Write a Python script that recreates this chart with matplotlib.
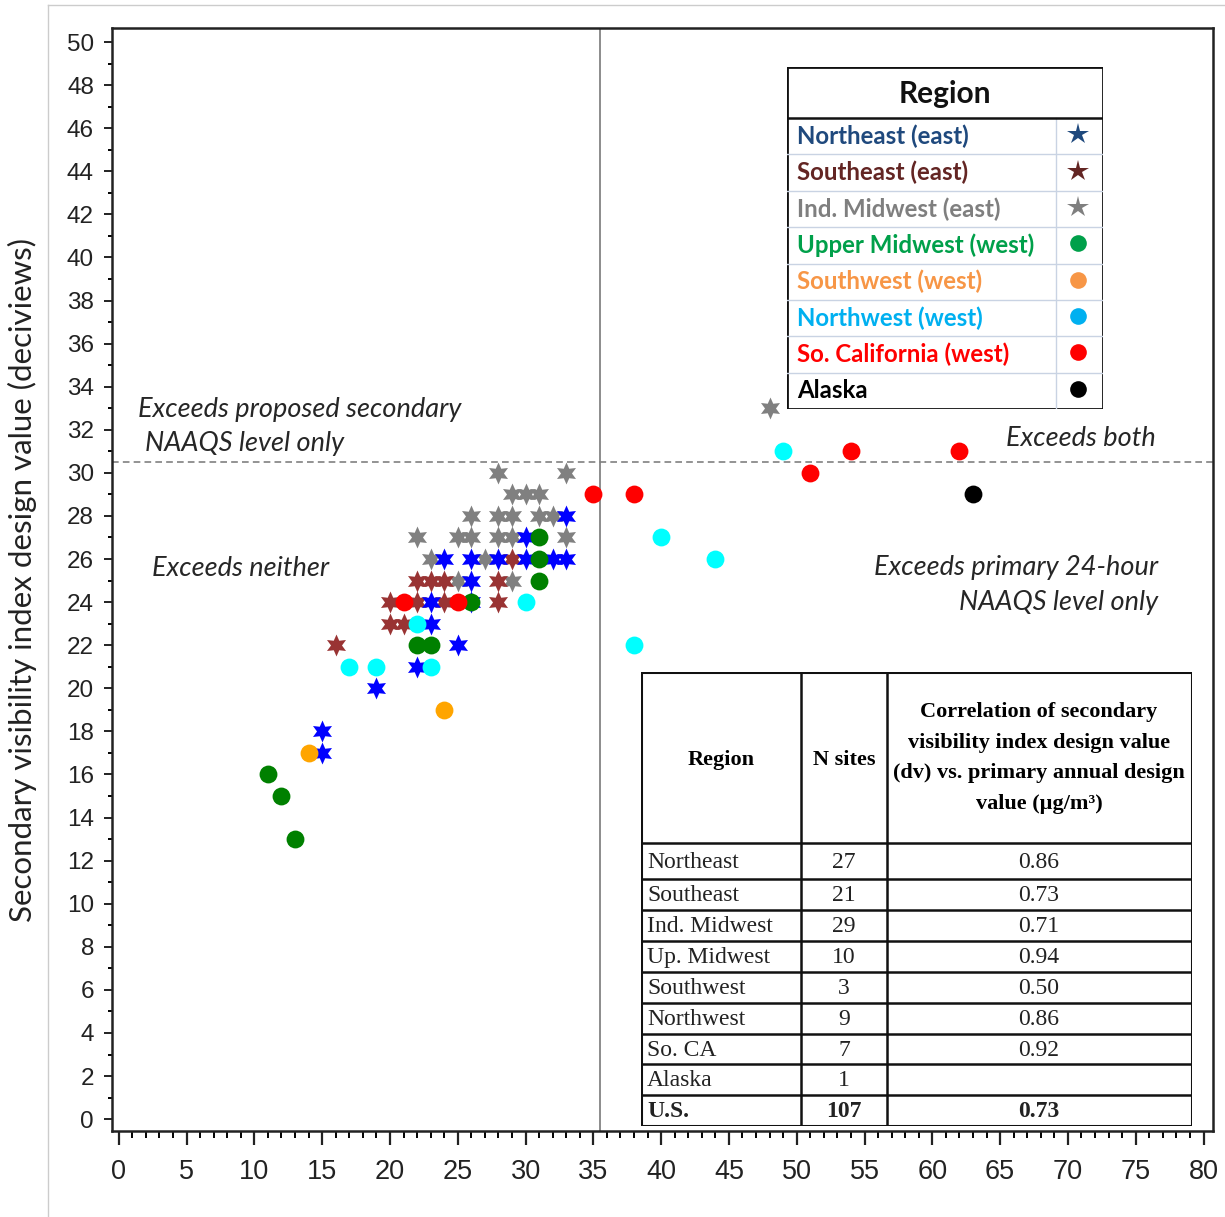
import matplotlib
matplotlib.use("Agg")
import matplotlib.pyplot as plt
from matplotlib import font_manager
from matplotlib.patches import Rectangle
from matplotlib.lines import Line2D
from matplotlib.ticker import MultipleLocator

# scatter data: x = primary annual design value, y = visibility index (dv)
ne_x = [15, 15, 19, 22, 25, 23, 23, 26, 26, 24, 26, 28, 30, 32, 33, 30, 33]
ne_y = [18, 17, 20, 21, 22, 23, 24, 24, 25, 26, 26, 26, 26, 26, 26, 27, 28]
se_x = [16, 20, 20, 21, 22, 22, 23, 24, 24, 28, 28, 29]
se_y = [22, 24, 23, 23, 25, 24, 25, 25, 24, 25, 24, 26]
im_x = [48, 28, 33, 29, 30, 31, 26, 28, 29, 31, 32, 22, 25, 26, 28, 29, 33, 23, 27, 25, 29]
im_y = [33, 30, 30, 29, 29, 29, 28, 28, 28, 28, 28, 27, 27, 27, 27, 27, 27, 26, 26, 25, 25]
um_x = [11, 12, 13, 22, 23, 26, 31, 31, 31]
um_y = [16, 15, 13, 22, 22, 24, 27, 26, 25]
sw_x = [14, 24]
sw_y = [17, 19]
nw_x = [49, 40, 44, 38, 30, 22, 17, 19, 23]
nw_y = [31, 27, 26, 22, 24, 23, 21, 21, 21]
sc_x = [35, 38, 51, 54, 62, 21, 25]
sc_y = [29, 29, 30, 31, 31, 24, 24]
ak_x = [63]
ak_y = [29]

primary_24h = 35.5
secondary_level = 30.5

legend_labels = ['Northeast (east)', 'Southeast (east)', 'Ind. Midwest (east)',
                 'Upper Midwest (west)', 'Southwest (west)', 'Northwest (west)',
                 'So. California (west)', 'Alaska']
legend_colors = ['#1F497D', '#632523', '#7F7F7F', '#00A04A', '#F79646',
                 '#00B0F0', '#FF0000', '#000000']
legend_markers = ['*', '*', '*', 'o', 'o', 'o', 'o', 'o']

tbl_regions = ['Northeast', 'Southeast', 'Ind. Midwest', 'Up. Midwest', 'Southwest',
               'Northwest', 'So. CA', 'Alaska', 'U.S.']
tbl_n = ['27', '21', '29', '10', '3', '9', '7', '1', '107']
tbl_r = ['0.86', '0.73', '0.71', '0.94', '0.50', '0.86', '0.92', '', '0.73']

names = {f.name for f in font_manager.fontManager.ttflist}
xfont = 'Liberation Sans Narrow' if 'Liberation Sans Narrow' in names else 'Liberation Sans'
cal = 'Lato'

W, H = 1225, 1217
fig = plt.figure(figsize=(W / 100, H / 100), dpi=100)


def box(l, t, r, b):
    return [l / W, 1 - b / H, (r - l) / W, (b - t) / H]


ax = fig.add_axes(box(112, 28, 1213, 1131))
ax.set_xlim(-0.5, 80.7)
ax.set_ylim(-0.55, 50.65)

star6 = (6, 1, 0)
ax.scatter(im_x, im_y, marker=star6, s=250, color='#808080', lw=0, zorder=3)
ax.scatter(se_x, se_y, marker=star6, s=250, color='#993333', lw=0, zorder=4)
ax.scatter(ne_x, ne_y, marker=star6, s=250, color='#0000FF', lw=0, zorder=5)
ax.scatter(um_x, um_y, marker='o', s=165, color='#008000', lw=0, zorder=6)
ax.scatter(sw_x, sw_y, marker='o', s=165, color='#FFA500', lw=0, zorder=6)
ax.scatter(nw_x, nw_y, marker='o', s=165, color='#00FFFF', lw=0, zorder=6)
ax.scatter(sc_x, sc_y, marker='o', s=165, color='#FF0000', lw=0, zorder=7)
ax.scatter(ak_x, ak_y, marker='o', s=165, color='#000000', lw=0, zorder=7)

ax.axvline(primary_24h, color='#8C8C8C', lw=1.4, zorder=1)
ax.axhline(secondary_level, color='#808080', lw=1.2, ls=(0, (4, 2.5)), zorder=1)

for sp in ax.spines.values():
    sp.set_linewidth(1.8)
    sp.set_color('#222222')

ax.xaxis.set_major_locator(MultipleLocator(5))
ax.xaxis.set_minor_locator(MultipleLocator(1))
ax.yaxis.set_major_locator(MultipleLocator(2))
ax.yaxis.set_minor_locator(MultipleLocator(1))
ax.tick_params(axis='x', which='major', direction='out', length=10, width=1.6, pad=10,
               labelsize=19.5, colors='#222222')
ax.tick_params(axis='x', which='minor', direction='out', length=5, width=1.4)
ax.tick_params(axis='y', which='major', direction='out', length=6, width=1.4, pad=7,
               labelsize=17.5, colors='#222222')
ax.tick_params(axis='y', which='minor', direction='out', length=3, width=1.4)
for lab in ax.get_xticklabels():
    lab.set_fontfamily(xfont)
for lab in ax.get_yticklabels():
    lab.set_fontfamily('Liberation Sans')

fig.text(22 / W, 1 - 580 / H, 'Secondary visibility index design value (deciviews)',
         rotation=90, ha='center', va='center', fontsize=22.5, family=cal, color='#222222')

# region annotations
note = dict(fontsize=19.5, family=cal, style='italic', color='#262626', va='center')
ax.text(0.024, 1 - (409 - 28) / 1103, 'Exceeds proposed secondary', transform=ax.transAxes, ha='left', **note)
ax.text(0.030, 1 - (444 - 28) / 1103, 'NAAQS level only', transform=ax.transAxes, ha='left', **note)
ax.text(0.036, 1 - (568 - 28) / 1103, 'Exceeds neither', transform=ax.transAxes, ha='left', **note)
ax.text((1156 - 112) / 1101, 1 - (438 - 28) / 1103, 'Exceeds both', transform=ax.transAxes, ha='right', **note)
ax.text((1158 - 112) / 1101, 1 - (568 - 28) / 1103, 'Exceeds primary 24-hour', transform=ax.transAxes, ha='right', **note)
ax.text((1158 - 112) / 1101, 1 - (603 - 28) / 1103, 'NAAQS level only', transform=ax.transAxes, ha='right', **note)

# legend table (pixel coordinates inside its own axes)
lg = fig.add_axes(box(787, 67, 1103, 409), zorder=10)
lg.set_xlim(0, 316)
lg.set_ylim(342, 0)
lg.axis('off')
lg.add_patch(Rectangle((0, 0), 316, 342, facecolor='white', edgecolor='none'))
head = 51
rowh = (342 - head) / 8
for i in range(1, 8):
    yy = head + i * rowh
    lg.plot([0, 316], [yy, yy], color='#C9D3E3', lw=1.0)
lg.plot([269, 269], [head, 342], color='#C9D3E3', lw=1.0)
lg.plot([0, 316], [head, head], color='#111111', lw=1.8)
lg.add_patch(Rectangle((0, 0), 316, 342, facecolor='none', edgecolor='#111111', lw=2.0))
lg.text(158, 27, 'Region', ha='center', va='center', fontsize=21.5, weight='bold', family=cal, color='#111111')
for i, (lab, col, mk) in enumerate(zip(legend_labels, legend_colors, legend_markers)):
    yc = head + (i + 0.5) * rowh
    lg.text(10, yc, lab, ha='left', va='center', fontsize=17.3, weight='bold', family=cal, color=col)
    lg.plot(291, yc - 2, marker=mk, ms=16 if mk == '*' else 12, color=col, mew=0)

# statistics table
tb = fig.add_axes(box(641, 672, 1192, 1126), zorder=10)
tb.set_xlim(0, 551)
tb.set_ylim(454, 0)
tb.axis('off')
tb.add_patch(Rectangle((0, 0), 551, 454, facecolor='white', edgecolor='none'))
row_edges = [171, 207, 238, 269, 300, 331, 362, 392, 423]
for yy in row_edges:
    tb.plot([0, 551], [yy, yy], color='#111111', lw=1.8)
for xx in [160, 246]:
    tb.plot([xx, xx], [0, 454], color='#111111', lw=1.8)
tb.add_patch(Rectangle((0, 0), 551, 454, facecolor='none', edgecolor='#111111', lw=2.2))
serif = 'Liberation Serif'
tb.text(80, 88, 'Region', ha='center', va='center', fontsize=16, weight='bold', family=serif)
tb.text(203, 88, 'N sites', ha='center', va='center', fontsize=16, weight='bold', family=serif)
tb.text(398, 86, 'Correlation of secondary\nvisibility index design value\n(dv) vs. primary annual design\nvalue (µg/m³)',
        ha='center', va='center', fontsize=16, weight='bold', family=serif, linespacing=1.7)
edges = row_edges + [454]
for i in range(len(tbl_regions)):
    yc = (edges[i] + edges[i + 1]) / 2 + 1
    wt = 'bold' if tbl_regions[i] == 'U.S.' else 'normal'
    tb.text(6, yc, tbl_regions[i], ha='left', va='center', fontsize=17, weight=wt, family=serif, color='#222222')
    tb.text(203, yc, tbl_n[i], ha='center', va='center', fontsize=17, weight=wt, family=serif, color='#222222')
    tb.text(398, yc, tbl_r[i], ha='center', va='center', fontsize=17, weight=wt, family=serif, color='#222222')

# faint outer frame of the original figure
fig.add_artist(Line2D([48 / W, 48 / W], [0, 1 - 5 / H], color='#CCCCCC', lw=1))
fig.add_artist(Line2D([48 / W, 1], [1 - 5 / H, 1 - 5 / H], color='#CCCCCC', lw=1))

fig.savefig('out.png', dpi=100)
